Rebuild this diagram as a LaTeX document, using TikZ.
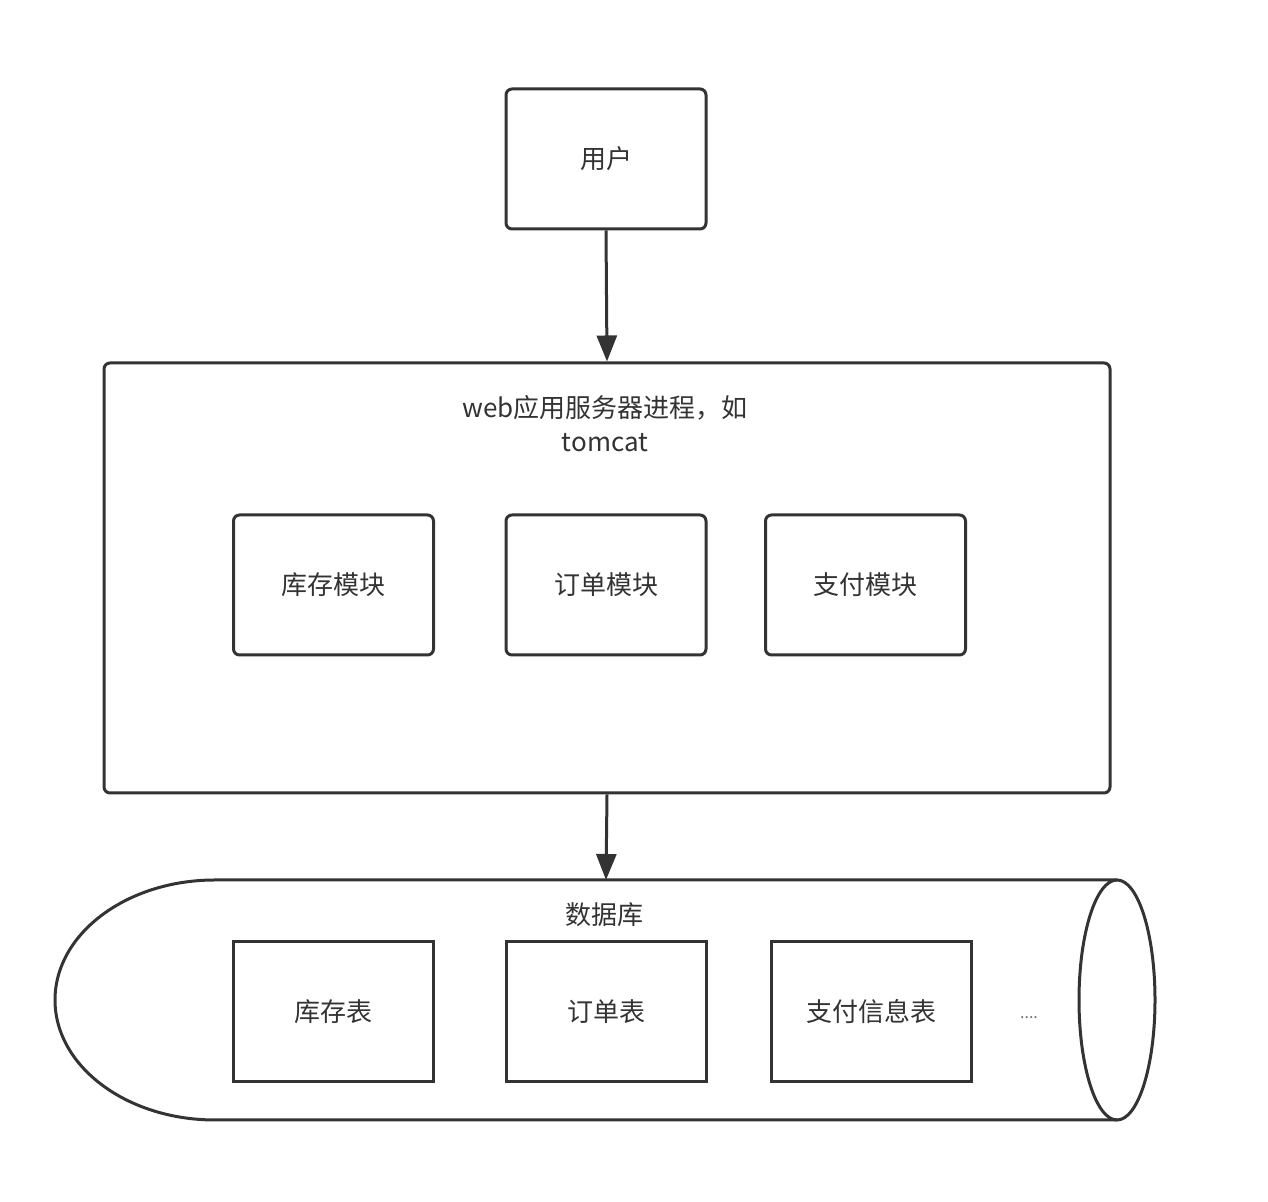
\documentclass[tikz,border=0pt]{standalone}
\usepackage{fontspec}
\setmainfont{Noto Sans CJK SC}
\usepackage{xcolor}
\usetikzlibrary{arrows.meta, positioning}

\definecolor{ink}{HTML}{333333}

\begin{document}
\begin{tikzpicture}[
    x=0.5pt, y=0.5pt,
    every node/.style={font=\fontsize{13pt}{17pt}\selectfont, text=ink},
    module/.style={draw=ink, line width=1.5pt, rounded corners=3pt,
                   minimum width=100pt, minimum height=70pt, inner sep=0pt},
    dbtable/.style={draw=ink, line width=1.5pt,
                    minimum width=100pt, minimum height=70pt, inner sep=0pt},
    flow/.style={draw=ink, line width=1.5pt, -{Triangle[length=13pt, width=10pt]}}
  ]
  \useasboundingbox (0,0) rectangle (1268,1202);

  % user and web server
  \node[module] (user) at (606,1043) {用户};
  \node[module, minimum width=503pt, minimum height=215pt] (web) at (607,624) {};
  \node[align=center] (weblabel) at (605,778) {web应用服务器进程，如\\tomcat};

  \node[module] (stock) at (333.5,617) {库存模块};
  \node[module] (order) at (606,617) {订单模块};
  \node[module] (pay) at (865.5,617) {支付模块};

  % database cylinder
  \draw[draw=ink, line width=1.5pt] (1117,322) -- (215,322)
    arc[start angle=90, end angle=270, x radius=160, y radius=120]
    -- (1117,82);
  \draw[draw=ink, line width=1.5pt] (1117,202) ellipse[x radius=38, y radius=120];
  \coordinate (dbtop) at (606,322);
  \node (dblabel) at (604,287) {数据库};

  \node[dbtable] (stocktab) at (333.5,190) {库存表};
  \node[dbtable] (ordertab) at (606,190) {订单表};
  \node[dbtable] (paytab) at (871.5,190) {支付信息表};
  \node[font=\fontsize{8pt}{10pt}\selectfont, text=ink!70] (more) at (1029,184) {....};

  \draw[flow] (user.south) -- (web.north);
  \draw[flow] (web.south) -- (dbtop);
\end{tikzpicture}
\end{document}
